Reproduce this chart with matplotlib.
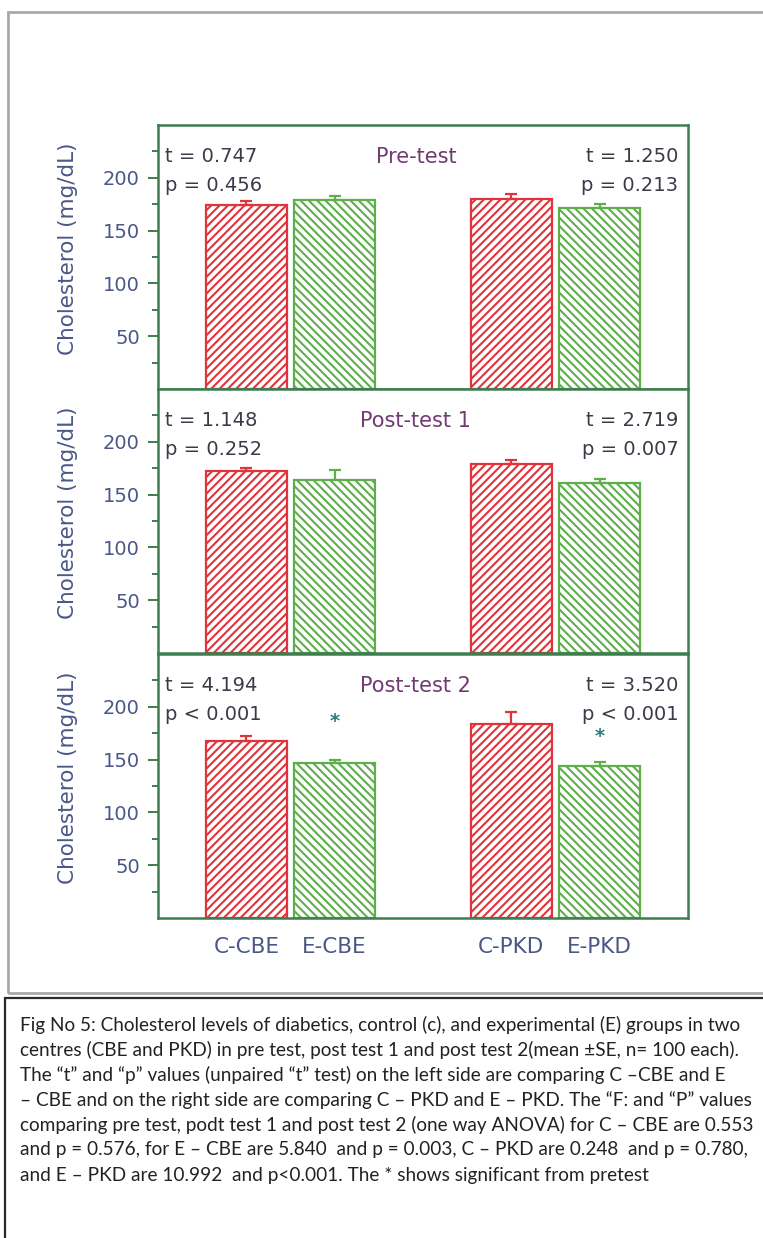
import numpy as np
import matplotlib
matplotlib.use('Agg')
import matplotlib.pyplot as plt
from matplotlib.patches import Rectangle

# values (mean, upper SE)
groups = ["C-CBE", "E-CBE", "C-PKD", "E-PKD"]
panel_titles = ["Pre-test", "Post-test 1", "Post-test 2"]
pre_mean = [174, 179, 180, 171]
pre_se = [4, 4, 5, 4]
post1_mean = [172, 164, 179, 161]
post1_se = [3, 9, 4, 4]
post2_mean = [168, 147, 184, 144]
post2_se = [4, 3, 11, 4]
left_stats = [("t = 0.747", "p = 0.456"), ("t = 1.148", "p = 0.252"), ("t = 4.194", "p < 0.001")]
right_stats = [("t = 1.250", "p = 0.213"), ("t = 2.719", "p = 0.007"), ("t = 3.520", "p < 0.001")]
star_groups = [[], [], ["E-CBE", "E-PKD"]]
star_heights = [[], [], [186, 172]]

caption_lines = [
    "Fig No 5: Cholesterol levels of diabetics, control (c), and experimental (E) groups in two",
    "centres (CBE and PKD) in pre test, post test 1 and post test 2(mean \u00b1SE, n= 100 each).",
    "The \u201ct\u201d and \u201cp\u201d values (unpaired \u201ct\u201d test) on the left side are comparing C \u2013CBE and E",
    "\u2013 CBE and on the right side are comparing C \u2013 PKD and E \u2013 PKD. The \u201cF: and \u201cP\u201d values",
    "comparing pre test, podt test 1 and post test 2 (one way ANOVA) for C \u2013 CBE are 0.553",
    "and p = 0.576, for E \u2013 CBE are 5.840  and p = 0.003, C \u2013 PKD are 0.248  and p = 0.780,",
    "and E \u2013 PKD are 10.992  and p<0.001. The * shows significant from pretest",
]

means = [pre_mean, post1_mean, post2_mean]
ses = [pre_se, post1_se, post2_se]

W, H = 763, 1238
fig = plt.figure(figsize=(W / 100, H / 100), dpi=100)
plt.rcParams['font.family'] = ['DejaVu Sans']
plt.rcParams['hatch.linewidth'] = 1.5

red = "#e0343c"
green = "#5fae4c"
frame_c = "#3e7d50"
tick_lab_c = "#4a5788"
txt_c = "#3a3b48"
title_c = "#6f3b72"
star_c = "#2c7c7c"

xpos = [0, 1, 3, 4]
bar_colors = [red, green, red, green]
hatches = ["////", "\\\\\\\\", "////", "\\\\\\\\"]

# outer grey frame and caption box
fig.patches.append(Rectangle((8 / W, 1 - 993 / H), 800 / W, (993 - 12) / H, transform=fig.transFigure,
                             fill=False, ec="#a9a9a9", lw=2))
fig.patches.append(Rectangle((5 / W, 1 - 1300 / H), 800 / W, (1300 - 998) / H, transform=fig.transFigure,
                             fill=False, ec="#2a2a2a", lw=1.6))

left, right = 158, 688
tops = [125, 389, 654]
ph = 264
for i in range(3):
    ax = fig.add_axes([left / W, 1 - (tops[i] + ph) / H, (right - left) / W, ph / H])
    for j in range(4):
        ax.bar(xpos[j], means[i][j], width=0.91, color="white", edgecolor=bar_colors[j],
               hatch=hatches[j], lw=1.6, zorder=2)
        ax.errorbar(xpos[j], means[i][j], yerr=[[0], [ses[i][j]]], fmt='none',
                    ecolor=bar_colors[j], elinewidth=1.6, capsize=4, capthick=1.6, zorder=3)
    for g, h in zip(star_groups[i], star_heights[i]):
        ax.text(xpos[groups.index(g)], h, "*", color=star_c, fontsize=14, ha="center", va="center",
                fontweight="bold")
    ax.set_xlim(-1, 5)
    ax.set_ylim(0, 250)
    ax.set_yticks([50, 100, 150, 200])
    ax.set_yticks([25, 75, 125, 175, 225], minor=True)
    ax.tick_params(axis='y', which='major', length=7, width=1.4, color=frame_c,
                   labelsize=14, labelcolor=tick_lab_c, pad=6)
    ax.tick_params(axis='y', which='minor', length=4, width=1.4, color=frame_c)
    for s in ax.spines.values():
        s.set_color(frame_c)
        s.set_linewidth(1.8)
    ax.set_ylabel("Cholesterol (mg/dL)", fontsize=15.5, color=tick_lab_c)
    ax.yaxis.set_label_coords(-80 / 530, 0.53)
    if i == 2:
        ax.set_xticks(xpos)
        ax.set_xticklabels(groups, fontsize=15.5, color=tick_lab_c)
        ax.tick_params(axis='x', length=0, pad=14)
    else:
        ax.set_xticks([])
    ax.text(-0.92, 220, left_stats[i][0], fontsize=14, color=txt_c, ha="left", va="center")
    ax.text(-0.92, 193, left_stats[i][1], fontsize=14, color=txt_c, ha="left", va="center")
    ax.text(4.89, 220, right_stats[i][0], fontsize=14, color=txt_c, ha="right", va="center")
    ax.text(4.89, 193, right_stats[i][1], fontsize=14, color=txt_c, ha="right", va="center")
    ax.text(1.92, 220, panel_titles[i], fontsize=15, color=title_c, ha="center", va="center")

cap_texts = []
for k, line in enumerate(caption_lines):
    t = fig.text(20 / W, 1 - (1025 + 25 * k) / H, line, fontsize=11, family=["Lato", "DejaVu Sans"],
                 color="#222222", ha="left", va="center")
    cap_texts.append(t)

# fit the caption width: first line spans about 20..742 px
renderer = fig.canvas.get_renderer()
w0 = cap_texts[0].get_window_extent(renderer).width
size = 11 * 722 / w0
for t in cap_texts:
    t.set_fontsize(size)

fig.savefig("out.png", dpi=100)
